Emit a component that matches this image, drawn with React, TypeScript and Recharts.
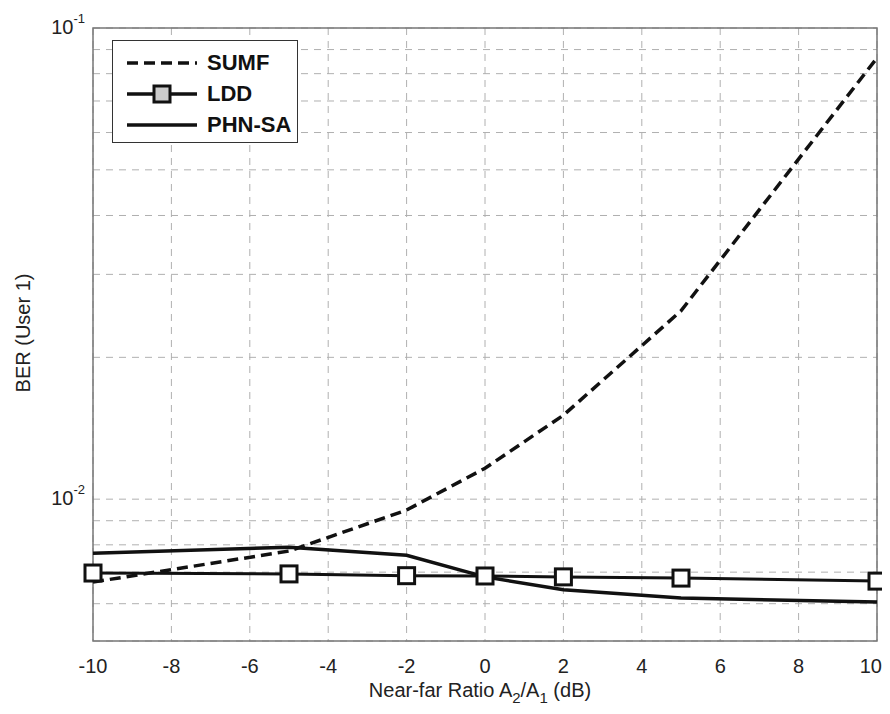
import React from "react";
import {
  LineChart,
  Line,
  XAxis,
  YAxis,
  CartesianGrid,
  ReferenceArea,
} from "recharts";

// Near-far ratio A2/A1 in dB
const NEAR_FAR_DB = [-10, -5, -2, 0, 2, 5, 10];

// Bit error rate of user 1 for each detector
const SUMF_BER = [0.00667, 0.00776, 0.00948, 0.01163, 0.01507, 0.0251, 0.0864];
const LDD_BER = [0.00697, 0.00694, 0.00688, 0.00687, 0.00684, 0.0068, 0.0067];
const PHN_SA_BER = [0.00768, 0.00791, 0.0076, 0.00684, 0.00642, 0.00617, 0.00605];

const X_TICKS = [-10, -8, -6, -4, -2, 0, 2, 4, 6, 8, 10];
const Y_TICKS = [
  0.005, 0.006, 0.007, 0.008, 0.009, 0.01, 0.02, 0.03, 0.04, 0.05, 0.06, 0.07,
  0.08, 0.09, 0.1,
];
const Y_DECADES: Record<string, string> = { "0.01": "-2", "0.1": "-1" };

const SERIES = [
  { key: "sumf", name: "SUMF", dash: "11 6", marker: false },
  { key: "ldd", name: "LDD", dash: undefined, marker: true },
  { key: "phn", name: "PHN-SA", dash: undefined, marker: false },
];

const data = NEAR_FAR_DB.map((x, i) => ({
  x,
  sumf: SUMF_BER[i],
  ldd: LDD_BER[i],
  phn: PHN_SA_BER[i],
}));

const FONT = "'Liberation Sans', Arial, sans-serif";
// The figure spans the full page, so the body margin is cancelled out.
const W = 890;
const H = 714;
const X_MAX = X_TICKS[X_TICKS.length - 1];

const SquareDot = (props: any) => {
  const { cx, cy } = props;
  if (cx == null || cy == null) return null;
  return (
    <rect
      x={cx - 8}
      y={cy - 8}
      width={16}
      height={16}
      fill="#fff"
      stroke="#111"
      strokeWidth={3}
    />
  );
};

const YTick = (props: any) => {
  const { x, y, payload } = props;
  const exp = Y_DECADES[String(payload.value)];
  if (!exp) return null;
  return (
    <text x={x - 2} y={y + 6} textAnchor="end" fontFamily={FONT} fill="#222">
      <tspan fontSize={20}>10</tspan>
      <tspan fontSize={13} dy={-11}>
        {exp}
      </tspan>
    </text>
  );
};

const XTick = (props: any) => {
  const { x, y, payload } = props;
  // the last label is kept inside the right page edge
  const last = payload.value === X_MAX;
  return (
    <text
      x={last ? x + 5 : x}
      y={y + 24}
      textAnchor={last ? "end" : "middle"}
      fontFamily={FONT}
      fontSize={20}
      fill="#222"
    >
      {payload.value}
    </text>
  );
};

const LegendBox = () => (
  <div
    style={{
      position: "absolute",
      left: 112,
      top: 40,
      width: 186,
      height: 103,
      border: "1.5px solid #333",
      background: "#fff",
      boxSizing: "border-box",
      paddingTop: 6,
    }}
  >
    {SERIES.map((s) => (
      <div
        key={s.key}
        style={{ display: "flex", alignItems: "center", height: 31 }}
      >
        <svg width={90} height={24} style={{ marginLeft: 8 }}>
          <line
            x1={6}
            x2={76}
            y1={12}
            y2={12}
            stroke="#111"
            strokeWidth={3.5}
            strokeDasharray={s.dash}
          />
          {s.marker && (
            <rect
              x={33}
              y={4}
              width={16}
              height={16}
              fill="#ccc"
              stroke="#111"
              strokeWidth={3}
            />
          )}
        </svg>
        <span
          style={{
            fontFamily: FONT,
            fontWeight: "bold",
            fontSize: 22,
            color: "#111",
            marginLeft: -4,
          }}
        >
          {s.name}
        </span>
      </div>
    ))}
  </div>
);

export default function App() {
  return (
    <div
      style={{
        position: "relative",
        width: W,
        height: H,
        margin: -8,
        overflow: "hidden",
      }}
    >
      <LineChart
        width={W}
        height={H}
        data={data}
        margin={{ top: 28, right: 13, bottom: 43, left: 0 }}
      >
        <CartesianGrid
          stroke="#b0b0b0"
          strokeDasharray="7 6"
          strokeWidth={1}
          fill="#fff"
        />
        <XAxis
          dataKey="x"
          type="number"
          domain={[-10, 10]}
          ticks={X_TICKS}
          tick={<XTick />}
          tickLine={false}
          axisLine={false}
          height={30}
          interval={0}
        />
        <YAxis
          type="number"
          scale="log"
          domain={[0.005, 0.1]}
          ticks={Y_TICKS}
          tick={<YTick />}
          tickLine={false}
          axisLine={false}
          width={93}
          interval={0}
          tickMargin={0}
          allowDataOverflow
        />
        <ReferenceArea
          x1={-10}
          x2={10}
          y1={0.005}
          y2={0.1}
          fill="none"
          stroke="#777"
          strokeWidth={1.5}
          ifOverflow="visible"
        />
        <Line
          type="linear"
          dataKey="sumf"
          name="SUMF"
          stroke="#111"
          strokeWidth={3.5}
          strokeDasharray="11 6"
          dot={false}
          isAnimationActive={false}
        />
        <Line
          type="linear"
          dataKey="phn"
          name="PHN-SA"
          stroke="#111"
          strokeWidth={3.5}
          dot={false}
          isAnimationActive={false}
        />
        <Line
          type="linear"
          dataKey="ldd"
          name="LDD"
          stroke="#111"
          strokeWidth={3}
          dot={<SquareDot />}
          isAnimationActive={false}
        />
      </LineChart>
      <LegendBox />
      <svg
        width={W}
        height={H}
        style={{ position: "absolute", left: 0, top: 0, pointerEvents: "none" }}
      >
        <text
          x={480}
          y={697}
          textAnchor="middle"
          fontFamily={FONT}
          fontSize={20}
          fill="#222"
        >
          Near-far Ratio A
          <tspan fontSize={15} dy={6}>
            2
          </tspan>
          <tspan dy={-6}>/A</tspan>
          <tspan fontSize={15} dy={6}>
            1
          </tspan>
          <tspan dy={-6}> (dB)</tspan>
        </text>
        <text
          transform="translate(30 333) rotate(-90)"
          textAnchor="middle"
          fontFamily={FONT}
          fontSize={20}
          fill="#222"
        >
          BER (User 1)
        </text>
      </svg>
    </div>
  );
}
